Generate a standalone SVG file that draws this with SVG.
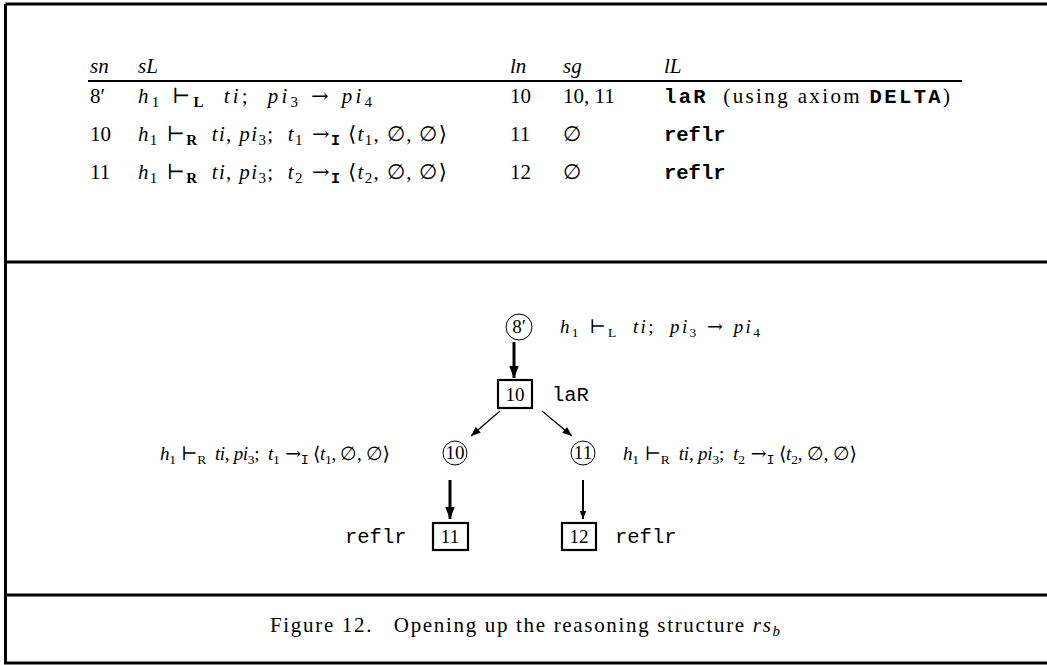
<svg xmlns="http://www.w3.org/2000/svg" width="1047" height="665" viewBox="0 0 1047 665">
<style>
.t{font-family:"Liberation Serif","DejaVu Serif",serif;font-size:21px;fill:#000;white-space:pre}
.d{font-family:"Liberation Serif","DejaVu Serif",serif;font-size:19px;fill:#000;white-space:pre}
.i{font-style:italic}
.m{font-family:"Liberation Mono","DejaVu Sans Mono",monospace;font-size:20.5px}
.b{font-weight:bold}
.s{font-size:15px}
.d .s{font-size:13.5px}
.ar{font-family:"DejaVu Serif",serif}
.frame{fill:none;stroke:#000;stroke-width:3}
.box{fill:none;stroke:#000;stroke-width:2.2}
.circ{fill:none;stroke:#000;stroke-width:1}
.thick{stroke:#000;stroke-width:3;fill:none}
.thin{stroke:#000;stroke-width:1.2;fill:none}
</style>
<defs>
<marker id="ah" viewBox="0 0 10 10" refX="10" refY="5" markerWidth="4" markerHeight="4" orient="auto" markerUnits="strokeWidth">
<path d="M0,1 L10,5 L0,9 Z" fill="#000"/>
</marker>
<marker id="ah2" viewBox="0 0 10 10" refX="10" refY="5" markerWidth="10" markerHeight="8" orient="auto" markerUnits="strokeWidth">
<path d="M0,1 L10,5 L0,9 Z" fill="#000"/>
</marker>
</defs>
<rect width="1047" height="665" fill="#fff"/>
<g id="frame">
<path class="frame" d="M5.5,4 H1047 M5.5,4 V663 H1047"/>
<line class="frame" x1="5.5" y1="262" x2="1047" y2="262"/>
<line class="frame" x1="5.5" y1="595" x2="1047" y2="595"/>
</g>
<g id="table">
<text class="t i" y="73"><tspan x="90">sn</tspan><tspan x="138">sL</tspan><tspan x="510">ln</tspan><tspan x="563">sg</tspan><tspan x="664">lL</tspan></text>
<line x1="88" y1="81" x2="962" y2="81" stroke="#000" stroke-width="2"/>
<text class="t" x="90" y="103">8′</text>
<text class="t" x="138" y="103" textLength="234" lengthAdjust="spacing"><tspan class="i">h</tspan><tspan class="s" dy="4">1</tspan><tspan dy="-4" class="ar"> ⊢</tspan><tspan class="s b" dy="4">L</tspan><tspan dy="-4" class="i">  ti</tspan><tspan>;  </tspan><tspan class="i">pi</tspan><tspan class="s" dy="4">3</tspan><tspan dy="-4" class="ar"> → </tspan><tspan class="i">pi</tspan><tspan class="s" dy="4">4</tspan></text>
<text class="t" x="510" y="103">10</text>
<text class="t" x="563" y="103">10, 11</text>
<text class="t" x="664" y="103" textLength="286" lengthAdjust="spacing"><tspan class="m b">laR</tspan><tspan>  (using axiom </tspan><tspan class="m b">DELTA</tspan><tspan>)</tspan></text>
<text class="t" x="90" y="141">10</text>
<text class="t" x="138" y="141" textLength="309" lengthAdjust="spacing"><tspan class="i">h</tspan><tspan class="s" dy="4">1</tspan><tspan dy="-4" class="ar"> ⊢</tspan><tspan class="s b" dy="4">R</tspan><tspan dy="-4" class="i">  ti</tspan><tspan>, </tspan><tspan class="i">pi</tspan><tspan class="s" dy="4">3</tspan><tspan dy="-4">;  </tspan><tspan class="i">t</tspan><tspan class="s" dy="4">1</tspan><tspan dy="-4" class="ar"> →</tspan><tspan class="s m b" dy="4">I</tspan><tspan dy="-4"> ⟨</tspan><tspan class="i">t</tspan><tspan class="s" dy="4">1</tspan><tspan dy="-4">, ∅, ∅⟩</tspan></text>
<text class="t" x="510" y="141">11</text>
<text class="t" x="563" y="141">∅</text>
<text class="t m b" x="664" y="141">reflr</text>
<text class="t" x="90" y="179">11</text>
<text class="t" x="138" y="179" textLength="309" lengthAdjust="spacing"><tspan class="i">h</tspan><tspan class="s" dy="4">1</tspan><tspan dy="-4" class="ar"> ⊢</tspan><tspan class="s b" dy="4">R</tspan><tspan dy="-4" class="i">  ti</tspan><tspan>, </tspan><tspan class="i">pi</tspan><tspan class="s" dy="4">3</tspan><tspan dy="-4">;  </tspan><tspan class="i">t</tspan><tspan class="s" dy="4">2</tspan><tspan dy="-4" class="ar"> →</tspan><tspan class="s m b" dy="4">I</tspan><tspan dy="-4"> ⟨</tspan><tspan class="i">t</tspan><tspan class="s" dy="4">2</tspan><tspan dy="-4">, ∅, ∅⟩</tspan></text>
<text class="t" x="510" y="179">12</text>
<text class="t" x="563" y="179">∅</text>
<text class="t m b" x="664" y="179">reflr</text>
</g>
<g id="connectors">
<line class="thick" x1="514" y1="342" x2="514" y2="378" marker-end="url(#ah)"/>
<line class="thin" x1="500" y1="411" x2="471" y2="436" marker-end="url(#ah2)"/>
<line class="thin" x1="542" y1="411" x2="572" y2="436" marker-end="url(#ah2)"/>
<line class="thick" x1="450" y1="480" x2="450" y2="519" marker-end="url(#ah)"/>
<line stroke="#000" stroke-width="2" x1="583" y1="480" x2="583" y2="519" marker-end="url(#ah)"/>
</g>
<g id="n8p">
<circle class="circ" cx="519" cy="327" r="13"/>
<text class="d" x="519" y="333" text-anchor="middle">8′</text>
<text class="d" x="560" y="333" textLength="200" lengthAdjust="spacing"><tspan class="i">h</tspan><tspan class="s" dy="4">1</tspan><tspan dy="-4" class="ar"> ⊢</tspan><tspan class="s" dy="4">L</tspan><tspan dy="-4" class="i">  ti</tspan><tspan>;  </tspan><tspan class="i">pi</tspan><tspan class="s" dy="4">3</tspan><tspan dy="-4" class="ar"> → </tspan><tspan class="i">pi</tspan><tspan class="s" dy="4">4</tspan></text>
</g>
<g id="n10box">
<rect class="box" x="498" y="380" width="34" height="28"/>
<text class="d" x="515" y="401" text-anchor="middle">10</text>
<text class="d m" x="552" y="401">laR</text>
</g>
<g id="n10">
<circle class="circ" cx="455" cy="453" r="12"/>
<text class="d" x="455" y="459" text-anchor="middle">10</text>
<text class="d" x="160" y="460" textLength="230" lengthAdjust="spacing"><tspan class="i">h</tspan><tspan class="s" dy="4">1</tspan><tspan dy="-4" class="ar"> ⊢</tspan><tspan class="s" dy="4">R</tspan><tspan dy="-4" class="i">  ti</tspan><tspan>, </tspan><tspan class="i">pi</tspan><tspan class="s" dy="4">3</tspan><tspan dy="-4">;  </tspan><tspan class="i">t</tspan><tspan class="s" dy="4">1</tspan><tspan dy="-4" class="ar"> →</tspan><tspan class="s m" dy="4">I</tspan><tspan dy="-4"> ⟨</tspan><tspan class="i">t</tspan><tspan class="s" dy="4">1</tspan><tspan dy="-4">, ∅, ∅⟩</tspan></text>
</g>
<g id="n11">
<circle class="circ" cx="583" cy="453" r="12"/>
<text class="d" x="583" y="459" text-anchor="middle">11</text>
<text class="d" x="623" y="460" textLength="234" lengthAdjust="spacing"><tspan class="i">h</tspan><tspan class="s" dy="4">1</tspan><tspan dy="-4" class="ar"> ⊢</tspan><tspan class="s" dy="4">R</tspan><tspan dy="-4" class="i">  ti</tspan><tspan>, </tspan><tspan class="i">pi</tspan><tspan class="s" dy="4">3</tspan><tspan dy="-4">;  </tspan><tspan class="i">t</tspan><tspan class="s" dy="4">2</tspan><tspan dy="-4" class="ar"> →</tspan><tspan class="s m" dy="4">I</tspan><tspan dy="-4"> ⟨</tspan><tspan class="i">t</tspan><tspan class="s" dy="4">2</tspan><tspan dy="-4">, ∅, ∅⟩</tspan></text>
</g>
<g id="n11box">
<rect class="box" x="433" y="523" width="35" height="27"/>
<text class="d" x="450" y="543" text-anchor="middle">11</text>
<text class="d m" x="345" y="543">reflr</text>
</g>
<g id="n12box">
<rect class="box" x="562" y="523" width="34" height="27"/>
<text class="d" x="579" y="543" text-anchor="middle">12</text>
<text class="d m" x="615" y="543">reflr</text>
</g>
<g id="caption">
<text class="t" x="270" y="632" textLength="510" lengthAdjust="spacing">Figure 12.   Opening up the reasoning structure <tspan class="i">rs</tspan><tspan class="s i" dy="4">b</tspan></text>
</g>
</svg>
